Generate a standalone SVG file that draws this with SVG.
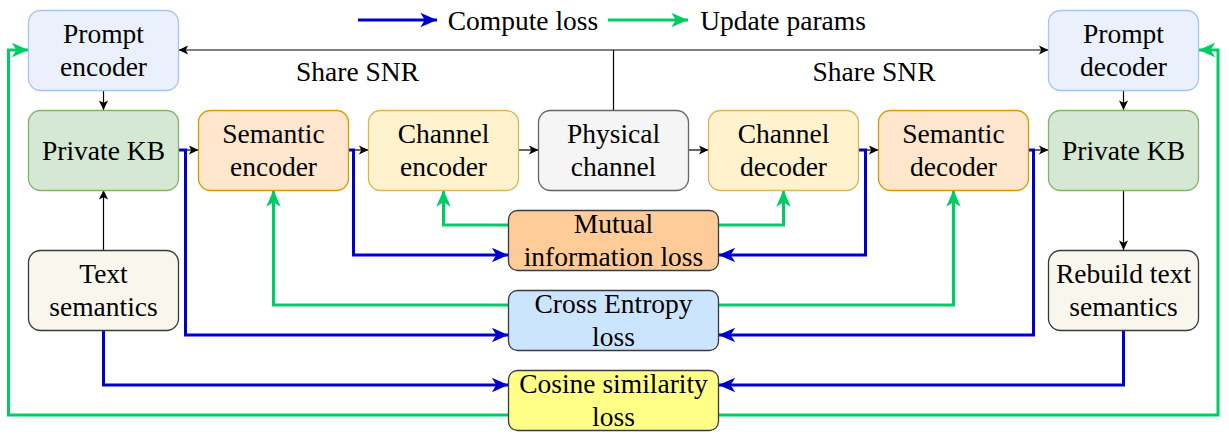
<svg xmlns="http://www.w3.org/2000/svg" width="1229" height="434" viewBox="0 0 1229 434" font-family="'Liberation Serif', 'Times New Roman', serif">
<style>
text{font-size:27.5px;fill:#000;text-anchor:middle}
.box{stroke-width:1.3}
.blk{fill:none;stroke:#000;stroke-width:1.2}
.blu{fill:none;stroke:#0000CC;stroke-width:3}
.grn{fill:none;stroke:#00CC66;stroke-width:3}
</style>
<defs>
<marker id="ab" markerUnits="userSpaceOnUse" markerWidth="20" markerHeight="20" viewBox="-1 -8 18 16" refX="15" refY="0" orient="auto"><path d="M0,-6.5L15,0L0,6.5L4,0Z" fill="#0000CC"/></marker>
<marker id="ag" markerUnits="userSpaceOnUse" markerWidth="20" markerHeight="20" viewBox="-1 -8 18 16" refX="15" refY="0" orient="auto"><path d="M0,-6.5L15,0L0,6.5L4,0Z" fill="#00CC66"/></marker>
<marker id="ak" markerUnits="userSpaceOnUse" markerWidth="12" markerHeight="12" viewBox="-1 -5 10 10" refX="8" refY="0" orient="auto"><path d="M0,-3.8L8,0L0,3.8L2,0Z" fill="#000"/></marker>
<marker id="aks" markerUnits="userSpaceOnUse" markerWidth="12" markerHeight="12" viewBox="-1 -5 10 10" refX="8" refY="0" orient="auto-start-reverse"><path d="M0,-3.8L8,0L0,3.8L2,0Z" fill="#000"/></marker>
</defs>
<g id="legend" font-family="'Liberation Serif', serif">
<path class="blu" d="M358,20H437" marker-end="url(#ab)"/>
<text x="523" y="30" font-family="'Liberation Serif', serif">Compute loss</text>
<path class="grn" d="M608,20H688" marker-end="url(#ag)"/>
<text x="783" y="30" font-family="'Liberation Serif', serif">Update params</text>
</g>
<g id="connectors">
<path class="blk" d="M178.5,50H1048.5" marker-start="url(#aks)" marker-end="url(#ak)"/>
<path class="blk" d="M613.5,110V50"/>
<path class="blk" d="M103.5,90V110" marker-end="url(#ak)"/>
<path class="blk" d="M103.5,250V190" marker-end="url(#ak)"/>
<path class="blk" d="M1123.5,90V110" marker-end="url(#ak)"/>
<path class="blk" d="M1123.5,190V250" marker-end="url(#ak)"/>
<path class="blk" d="M178.5,150H198.5" marker-end="url(#ak)"/>
<path class="blk" d="M348.5,150H368.5" marker-end="url(#ak)"/>
<path class="blk" d="M518.5,150H538.5" marker-end="url(#ak)"/>
<path class="blk" d="M688.5,150H708.5" marker-end="url(#ak)"/>
<path class="blk" d="M858.5,150H878.5" marker-end="url(#ak)"/>
<path class="blk" d="M1028.5,150H1048.5" marker-end="url(#ak)"/>
<path class="blu" d="M178.5,150H185.5V335H508.5" marker-end="url(#ab)"/>
<path class="blu" d="M348.5,150H353.5V255H508.5" marker-end="url(#ab)"/>
<path class="blu" d="M103.5,330V385H508.5" marker-end="url(#ab)"/>
<path class="blu" d="M858.5,150H865.5V255H718.5" marker-end="url(#ab)"/>
<path class="blu" d="M1028.5,150H1033.5V335H718.5" marker-end="url(#ab)"/>
<path class="blu" d="M1123.5,330V385H718.5" marker-end="url(#ab)"/>
<path class="grn" d="M508.5,225H443.5V190" marker-end="url(#ag)"/>
<path class="grn" d="M718.5,225H783.5V190" marker-end="url(#ag)"/>
<path class="grn" d="M508.5,305H273.5V190" marker-end="url(#ag)"/>
<path class="grn" d="M718.5,305H953.5V190" marker-end="url(#ag)"/>
<path class="grn" d="M508.5,415H8.5V50H28.5" marker-end="url(#ag)"/>
<path class="grn" d="M718.5,415H1218V50H1198.5" marker-end="url(#ag)"/>
</g>
<g font-family="'Liberation Serif', serif">
<g id="prompt-encoder"><rect class="box" x="28.5" y="10.5" width="150" height="80" rx="12" fill="#EAF1FC" stroke="#A9C4EB"/><text x="103.5" y="43">Prompt</text><text x="103.5" y="76">encoder</text></g>
<g id="prompt-decoder"><rect class="box" x="1048.5" y="10.5" width="150" height="80" rx="12" fill="#EAF1FC" stroke="#A9C4EB"/><text x="1123.5" y="43">Prompt</text><text x="1123.5" y="76">decoder</text></g>
<g id="private-kb-left"><rect class="box" x="28.5" y="110.5" width="150" height="80" rx="12" fill="#D5E8D4" stroke="#82B366"/><text x="103.5" y="160">Private KB</text></g>
<g id="private-kb-right"><rect class="box" x="1048.5" y="110.5" width="150" height="80" rx="12" fill="#D5E8D4" stroke="#82B366"/><text x="1123.5" y="160">Private KB</text></g>
<g id="semantic-encoder"><rect class="box" x="198.5" y="110.5" width="150" height="80" rx="12" fill="#FFE6CC" stroke="#D79B00"/><text x="273.5" y="143">Semantic</text><text x="273.5" y="176">encoder</text></g>
<g id="channel-encoder"><rect class="box" x="368.5" y="110.5" width="150" height="80" rx="12" fill="#FFF2CC" stroke="#D6B656"/><text x="443.5" y="143">Channel</text><text x="443.5" y="176">encoder</text></g>
<g id="physical-channel"><rect class="box" x="538.5" y="110.5" width="150" height="80" rx="12" fill="#F5F5F5" stroke="#666666"/><text x="613.5" y="143">Physical</text><text x="613.5" y="176">channel</text></g>
<g id="channel-decoder"><rect class="box" x="708.5" y="110.5" width="150" height="80" rx="12" fill="#FFF2CC" stroke="#D6B656"/><text x="783.5" y="143">Channel</text><text x="783.5" y="176">decoder</text></g>
<g id="semantic-decoder"><rect class="box" x="878.5" y="110.5" width="150" height="80" rx="12" fill="#FFE6CC" stroke="#D79B00"/><text x="953.5" y="143">Semantic</text><text x="953.5" y="176">decoder</text></g>
<g id="text-semantics"><rect class="box" x="28.5" y="250.5" width="150" height="80" rx="12" fill="#F9F7ED" stroke="#36393D"/><text x="103.5" y="283">Text</text><text x="103.5" y="316">semantics</text></g>
<g id="rebuild-text-semantics"><rect class="box" x="1048.5" y="250.5" width="150" height="80" rx="12" fill="#F9F7ED" stroke="#36393D"/><text x="1123.5" y="283">Rebuild text</text><text x="1123.5" y="316">semantics</text></g>
<g id="mutual-information-loss"><rect class="box" x="508.5" y="210.5" width="210" height="60" rx="9" fill="#FFCC99" stroke="#36393D"/><text x="613.5" y="233">Mutual</text><text x="613.5" y="266">information loss</text></g>
<g id="cross-entropy-loss"><rect class="box" x="508.5" y="290.5" width="210" height="60" rx="9" fill="#CCE5FF" stroke="#36393D"/><text x="613.5" y="313">Cross Entropy</text><text x="613.5" y="346">loss</text></g>
<g id="cosine-similarity-loss"><rect class="box" x="508.5" y="370.5" width="210" height="60" rx="9" fill="#FFFF88" stroke="#36393D"/><text x="613.5" y="393">Cosine similarity</text><text x="613.5" y="426">loss</text></g>
<g id="labels"><text x="357.5" y="81">Share SNR</text><text x="874" y="81">Share SNR</text></g>
</g>
</svg>
